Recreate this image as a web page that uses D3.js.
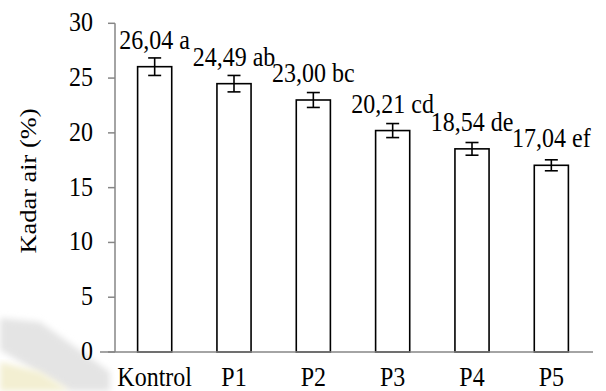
<!DOCTYPE html>
<html>

<head>
  <meta charset="utf-8">
  <title>Kadar air</title>
  <script type="text/javascript" src="https://cdn.jsdelivr.net/npm/d3@7"></script>
  <style type="text/css">
    body {
      margin: 0;
      background: #fff;
    }
  </style>
</head>

<body>
  <span id="chart"></span>

  <script type="text/javascript">
    // Data
    const kategori = ["Kontrol", "P1", "P2", "P3", "P4", "P5"];
    const nilai = [26.04, 24.49, 23.00, 20.21, 18.54, 17.04];
    const galat = [0.8, 0.75, 0.68, 0.64, 0.58, 0.5];
    const notasi = ["a", "ab", "bc", "cd", "de", "ef"];
    const yTicks = [0, 5, 10, 15, 20, 25, 30];

    const w = 606;
    const h = 391;
    const fs = 24;
    const font = "'Times New Roman', 'Liberation Serif', serif";
    const stretch = 1.1; // teks agak tinggi di gambar asli

    const svg = d3.select("#chart")
      .append("svg")
      .attr("width", w)
      .attr("height", h);

    // Watermark samar di kiri bawah
    const defs = svg.append("defs");
    defs.append("filter").attr("id", "blur")
      .append("feGaussianBlur").attr("stdDeviation", 3);
    svg.append("path")
      .attr("d", "M0,318 L40,322 L110,372 L110,391 L70,391 L0,350 Z")
      .attr("fill", "#e4e4e4")
      .attr("filter", "url(#blur)");
    svg.append("path")
      .attr("d", "M0,362 L40,372 L70,391 L0,391 Z")
      .attr("fill", "#f3efd2")
      .attr("filter", "url(#blur)");

    // Skala
    const x = d3.scaleBand()
      .domain(kategori)
      .range([115, 591])
      .paddingInner(0.57)
      .paddingOuter(0.285);

    const y = d3.scaleLinear()
      .domain([0, 30])
      .range([352, 23.3]);

    // Teks dengan tinggi sedikit direntangkan
    function teks(px, py, str, anchor) {
      svg.append("text")
        .attr("transform", `translate(${px},${py}) scale(1,${stretch})`)
        .attr("text-anchor", anchor)
        .attr("font-family", font)
        .attr("font-size", fs)
        .attr("fill", "#000")
        .text(str);
    }

    // Sumbu Y
    svg.append("line")
      .attr("x1", 115).attr("x2", 115)
      .attr("y1", y(30)).attr("y2", y(0))
      .attr("stroke", "#868686").attr("stroke-width", 1.5);
    yTicks.forEach(function (t) {
      svg.append("line")
        .attr("x1", 108).attr("x2", 115)
        .attr("y1", y(t)).attr("y2", y(t))
        .attr("stroke", "#868686").attr("stroke-width", 1.5);
      teks(93, y(t) + 8, t, "end");
    });

    // Judul sumbu Y
    svg.append("text")
      .attr("transform", `translate(36,181) rotate(-90) scale(${stretch},1)`)
      .attr("text-anchor", "middle")
      .attr("font-family", font)
      .attr("font-size", fs)
      .attr("fill", "#000")
      .text("Kadar air (%)");

    // Batang
    svg.selectAll("rect.bar")
      .data(nilai)
      .enter()
      .append("rect")
      .attr("class", "bar")
      .attr("x", function (d, i) { return x(kategori[i]); })
      .attr("y", function (d) { return y(d); })
      .attr("width", x.bandwidth())
      .attr("height", function (d) { return y(0) - y(d); })
      .attr("fill", "#fff")
      .attr("stroke", "#000")
      .attr("stroke-width", 1.6);

    // Sumbu X
    svg.append("line")
      .attr("x1", 100).attr("x2", 593)
      .attr("y1", y(0)).attr("y2", y(0))
      .attr("stroke", "#868686").attr("stroke-width", 1.5);

    // Error bar
    nilai.forEach(function (d, i) {
      const cx = x(kategori[i]) + x.bandwidth() / 2;
      const g = svg.append("g")
        .attr("stroke", "#000")
        .attr("stroke-width", 1.6);
      g.append("line")
        .attr("x1", cx).attr("x2", cx)
        .attr("y1", y(d + galat[i])).attr("y2", y(d - galat[i]));
      g.append("line")
        .attr("x1", cx - 6.5).attr("x2", cx + 6.5)
        .attr("y1", y(d + galat[i])).attr("y2", y(d + galat[i]));
      g.append("line")
        .attr("x1", cx - 6.5).attr("x2", cx + 6.5)
        .attr("y1", y(d - galat[i])).attr("y2", y(d - galat[i]));

      // Label nilai + notasi
      const label = d.toFixed(2).replace(".", ",") + " " + notasi[i];
      teks(cx, y(d) - 18, label, "middle");

      // Label kategori
      teks(cx, 386, kategori[i], "middle");
    });
  </script>
</body>

</html>
